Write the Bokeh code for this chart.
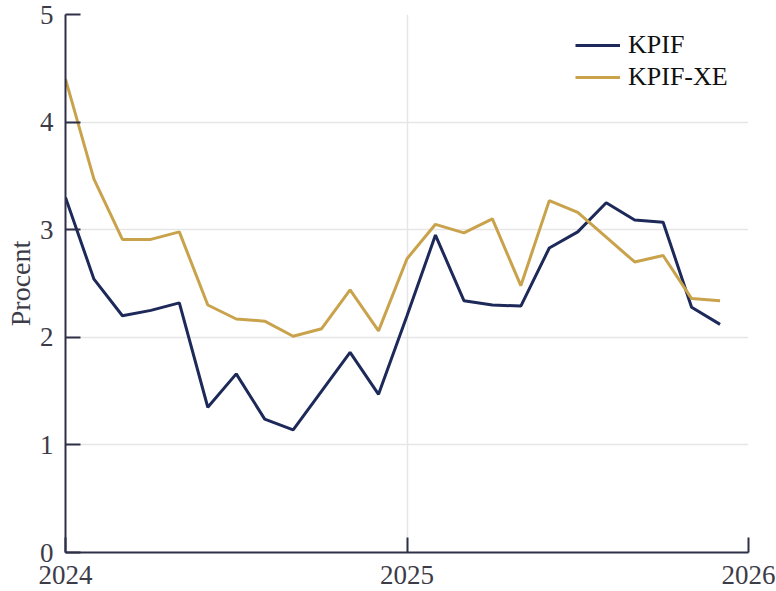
from bokeh.plotting import figure
from bokeh.models import FixedTicker, NumeralTickFormatter, Range1d, Legend
from bokeh.embed import file_html
from bokeh.resources import INLINE

months = ["2024-01", "2024-02", "2024-03", "2024-04", "2024-05", "2024-06",
          "2024-07", "2024-08", "2024-09", "2024-10", "2024-11", "2024-12",
          "2025-01", "2025-02", "2025-03", "2025-04", "2025-05", "2025-06",
          "2025-07", "2025-08", "2025-09", "2025-10", "2025-11", "2025-12"]
kpif = [3.30, 2.54, 2.20, 2.25, 2.32, 1.35, 1.66, 1.24, 1.14, 1.50, 1.86, 1.47,
        2.20, 2.95, 2.34, 2.30, 2.29, 2.83, 2.98, 3.25, 3.09, 3.07, 2.28, 2.12]
kpif_xe = [4.40, 3.47, 2.91, 2.91, 2.98, 2.30, 2.17, 2.15, 2.01, 2.08, 2.44, 2.06,
           2.73, 3.05, 2.97, 3.10, 2.48, 3.27, 3.16, 2.93, 2.70, 2.76, 2.36, 2.34]
x_ticks = [2024, 2025, 2026]
y_ticks = [0, 1, 2, 3, 4, 5]

xs = [int(m[:4]) + (int(m[5:]) - 1) / 12 for m in months]

FONT = "Liberation Serif"
AXIS_COLOR = "#2e3048"
TICK_TEXT = "#3c3c48"

p = figure(width=776, height=591, output_backend="svg", toolbar_location=None,
           x_range=Range1d(2024, 2026), y_range=Range1d(0, 5),
           min_border_left=65, min_border_right=28, min_border_top=14,
           min_border_bottom=39)
p.outline_line_color = None
p.background_fill_color = "white"
p.border_fill_color = "white"

l1 = p.line(xs, kpif, line_color="#1d2959", line_width=3)
l2 = p.line(xs, kpif_xe, line_color="#c9a24c", line_width=3)

legend = Legend(items=[("KPIF", [l1]), ("KPIF-XE", [l2])], location=(510, 460))
legend.border_line_color = None
legend.background_fill_alpha = 0
legend.padding = 0
legend.margin = 0
legend.spacing = 2
legend.glyph_width = 45
legend.glyph_height = 20
legend.label_standoff = 8
legend.label_text_font = FONT
legend.label_text_font_size = "26px"
legend.label_text_color = "#111111"
p.add_layout(legend, "center")

for ax in (p.xaxis, p.yaxis):
    ax.axis_line_color = AXIS_COLOR
    ax.axis_line_width = 2
    ax.major_tick_line_color = AXIS_COLOR
    ax.major_tick_line_width = 2
    ax.major_tick_in = 15
    ax.major_tick_out = 0
    ax.minor_tick_line_color = None
    ax.major_label_text_font = FONT
    ax.major_label_text_font_size = "27px"
    ax.major_label_text_color = TICK_TEXT

p.xaxis.ticker = FixedTicker(ticks=x_ticks)
p.xaxis.formatter = NumeralTickFormatter(format="0")
p.xaxis.major_label_standoff = 13
p.xaxis.major_label_text_line_height = 0.9
p.yaxis.ticker = FixedTicker(ticks=y_ticks)
p.yaxis.major_label_standoff = 12
p.yaxis.axis_label = "Procent"
p.yaxis.axis_label_text_font = FONT
p.yaxis.axis_label_text_font_size = "28px"
p.yaxis.axis_label_text_font_style = "normal"
p.yaxis.axis_label_text_color = TICK_TEXT
p.yaxis.axis_label_standoff = 1

p.xgrid.ticker = FixedTicker(ticks=[2025, 2026])
p.ygrid.ticker = FixedTicker(ticks=[1, 2, 3, 4, 5])
p.xgrid.grid_line_color = "#e6e6e6"
p.ygrid.grid_line_color = "#e6e6e6"
p.xgrid.grid_line_width = 1.5
p.ygrid.grid_line_width = 1.5

open("out.html", "w").write(file_html(p, INLINE))
